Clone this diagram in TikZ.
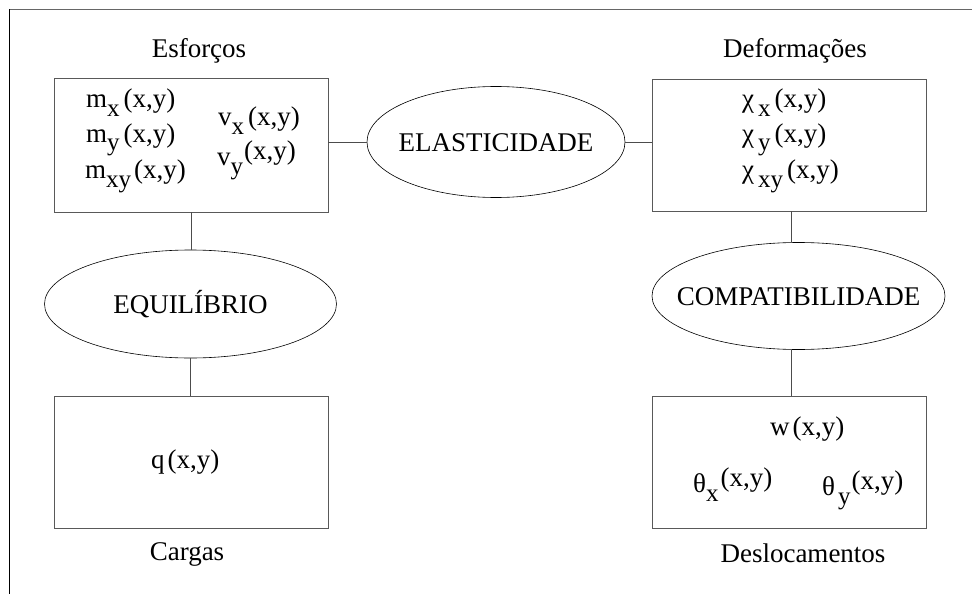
\documentclass[tikz,border=0pt]{standalone}
\usepackage{fontspec}
\setmainfont{Liberation Serif}
\usetikzlibrary{shapes.geometric,calc}
\newcommand{\lo}[1]{\raisebox{-9pt}{\fontsize{25}{25}\selectfont #1}}
\newcommand{\hi}[1]{\raisebox{6pt}{#1}}
\begin{document}
\begin{tikzpicture}[x=1pt,y=-1pt,
  box/.style={draw=black!65, line width=0.9pt, minimum width=274pt, minimum height=132pt, inner sep=0pt},
  oval/.style={draw, ellipse, line width=0.6pt, inner sep=0pt, font=\fontsize{27}{27}\selectfont, text height=18pt, text depth=0pt},
  txt/.style={anchor=base west, inner sep=0pt, font=\fontsize{27}{27}\selectfont},
  lbl/.style={anchor=base, inner sep=0pt, font=\fontsize{27}{27}\selectfont},
  link/.style={draw=black!70, line width=0.8pt}]
\useasboundingbox (0,0) rectangle (972,594);
\fill[white] (0,0) rectangle (972,594);
\draw[line width=1pt, black!60] (972,9.5) -- (9,9.5);
\draw[line width=1pt] (9,9.5) -- (9,594);
% boxes
\node[box, minimum height=134pt] (A) at (191,145) {};
\node[box, minimum height=132pt] (B) at (789,145) {};
\node[box] (C) at (191,462) {};
\node[box] (D) at (789,462) {};
% ellipses
\node[oval, minimum width=258pt, minimum height=111pt] (E) at (496,142) {\makebox[0pt]{ELASTICIDADE}};
\node[oval, minimum width=292pt, minimum height=108pt] (Q) at (190.5,304) {\makebox[0pt]{EQUILÍBRIO}};
\node[oval, minimum width=293pt, minimum height=107pt] (K) at (798.5,296) {\makebox[0pt]{COMPATIBILIDADE}};
% connectors
\draw[link] (A.east |- E.west) -- (E.west);
\draw[link] (E.east) -- (E.east -| B.west);
\draw[link] (A.south) -- (A.south |- Q.north);
\draw[link] (Q.south) -- (Q.south |- C.north);
\draw[link] ($(B.south)+(2,0)$) -- ($(B.south |- K.north)+(2,0)$);
\draw[link] ($(K.south -| B.south)+(2,0)$) -- ($(D.north)+(2,0)$);
% labels
\node[lbl] (esf) at (199,58) {Esforços};
\node[lbl] (def) at (795,58) {Deformações};
\node[lbl] (car) at (187,560) {Cargas};
\node[lbl] (des) at (803,562) {Deslocamentos};
% contents
\node[txt] (mx) at (86,107) {m\lo{x}\hspace{4pt}(x,y)};
\node[txt] (my) at (86,142) {m\lo{y}\hspace{4pt}(x,y)};
\node[txt] (mxy) at (85,178) {m\lo{xy}\hspace{3pt}(x,y)};
\node[txt] (vx) at (218,125) {v\lo{x}\hspace{4pt}(x,y)};
\node[txt] (vy) at (217,165) {v\lo{y}\hspace{1pt}\hi{(x,y)}};
\node[txt] (cx) at (742,107) {χ\hspace{4pt}\lo{x}\hspace{4pt}(x,y)};
\node[txt] (cy) at (742,142) {χ\hspace{4pt}\lo{y}\hspace{4pt}(x,y)};
\node[txt] (cxy) at (742,178) {χ\hspace{4pt}\lo{xy}\hspace{4pt}(x,y)};
\node[txt] (w) at (770,435) {w\hspace{3pt}(x,y)};
\node[txt] (tx) at (693,492) {θ\lo{x}\hspace{2pt}\hi{(x,y)}};
\node[txt] (ty) at (822,495) {θ\hspace{3pt}\lo{y}\hspace{1pt}\hi{(x,y)}};
\node[txt] (q) at (151,468) {q\hspace{3pt}(x,y)};
\end{tikzpicture}
\end{document}
